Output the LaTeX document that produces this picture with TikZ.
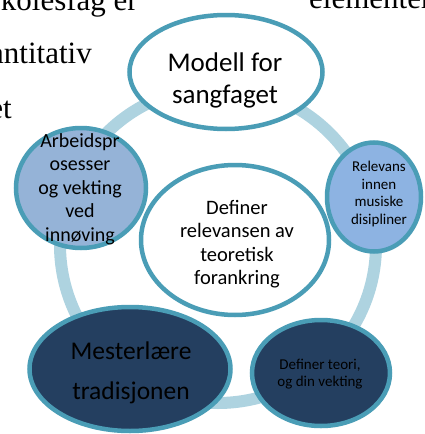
\documentclass[tikz,border=0pt]{standalone}
\usepackage{fontspec}
\setmainfont{Carlito}
\newfontfamily\bodyserif{Liberation Serif}
\usetikzlibrary{shapes.geometric}

\definecolor{rim}{HTML}{4A9DB6}
\definecolor{ringc}{HTML}{AED3E0}
\definecolor{paleblue}{HTML}{95B3D7}
\definecolor{skyblue}{HTML}{8DB3E2}
\definecolor{navy}{HTML}{243F60}

\tikzset{
  bubble/.style={ellipse, draw=rim, line width=4.5pt, inner sep=0pt, outer sep=0pt},
  caption/.style={align=center, text=black, inner sep=0pt},
  bgtext/.style={inner sep=0pt, font=\bodyserif\fontsize{31}{31}\selectfont}
}

\begin{document}
\begin{tikzpicture}[x=1pt, y=-1pt]
  \clip (0,0) rectangle (425,434);
  \fill[white] (0,0) rectangle (425,434);

  % running text of the page behind the figure
  \node[bgtext, anchor=base east] (t1) at (138,10) {kolesfag er};
  \node[bgtext, anchor=base east] (t2) at (92,63) {antitativ};
  \node[bgtext, anchor=base east] (t3) at (12,118) {et};
  \node[bgtext, anchor=base west] (t4) at (309,8) {elementer};

  % connecting ring
  \node[circle, draw=ringc, line width=12pt, minimum size=316pt, inner sep=0pt] (ring) at (218,245) {};

  % bubbles
  \node[bubble, fill=white, minimum width=193pt, minimum height=114pt] (top) at (226,72) {};
  \node[bubble, fill=paleblue, minimum width=130pt, minimum height=120pt] (left) at (81,188) {};
  \node[bubble, fill=skyblue, minimum width=94pt, minimum height=109pt] (right) at (374,197) {};
  \node[bubble, fill=white, minimum width=188pt, minimum height=150pt] (mid) at (235,240) {};
  \node[bubble, fill=navy, minimum width=201pt, minimum height=124pt] (botleft) at (130,369) {};
  \node[bubble, fill=navy, minimum width=138pt, minimum height=106pt] (botright) at (321,373) {};

  % captions
  \node[caption, font=\fontsize{27}{32}\selectfont] (toptxt) at (225,80) {Modell for\\sangfaget};
  \node[caption, font=\fontsize{20}{23.5}\selectfont] (lefttxt) at (80,189) {Arbeidspr\\osesser\\og vekting\\ved\\innøving};
  \node[caption, font=\fontsize{15}{17.7}\selectfont] (righttxt) at (379,194) {Relevans\\innen\\musiske\\disipliner};
  \node[caption, font=\fontsize{20.5}{23.5}\selectfont] (midtxt) at (237,244) {Definer\\relevansen av\\teoretisk\\forankring};
  \node[caption, font=\fontsize{25.5}{40}\selectfont] (bltxt) at (131,373) {Mesterlære\\tradisjonen};
  \node[caption, font=\fontsize{15}{17}\selectfont] (brtxt) at (320,374) {Definer teori,\\og din vekting};
\end{tikzpicture}
\end{document}
